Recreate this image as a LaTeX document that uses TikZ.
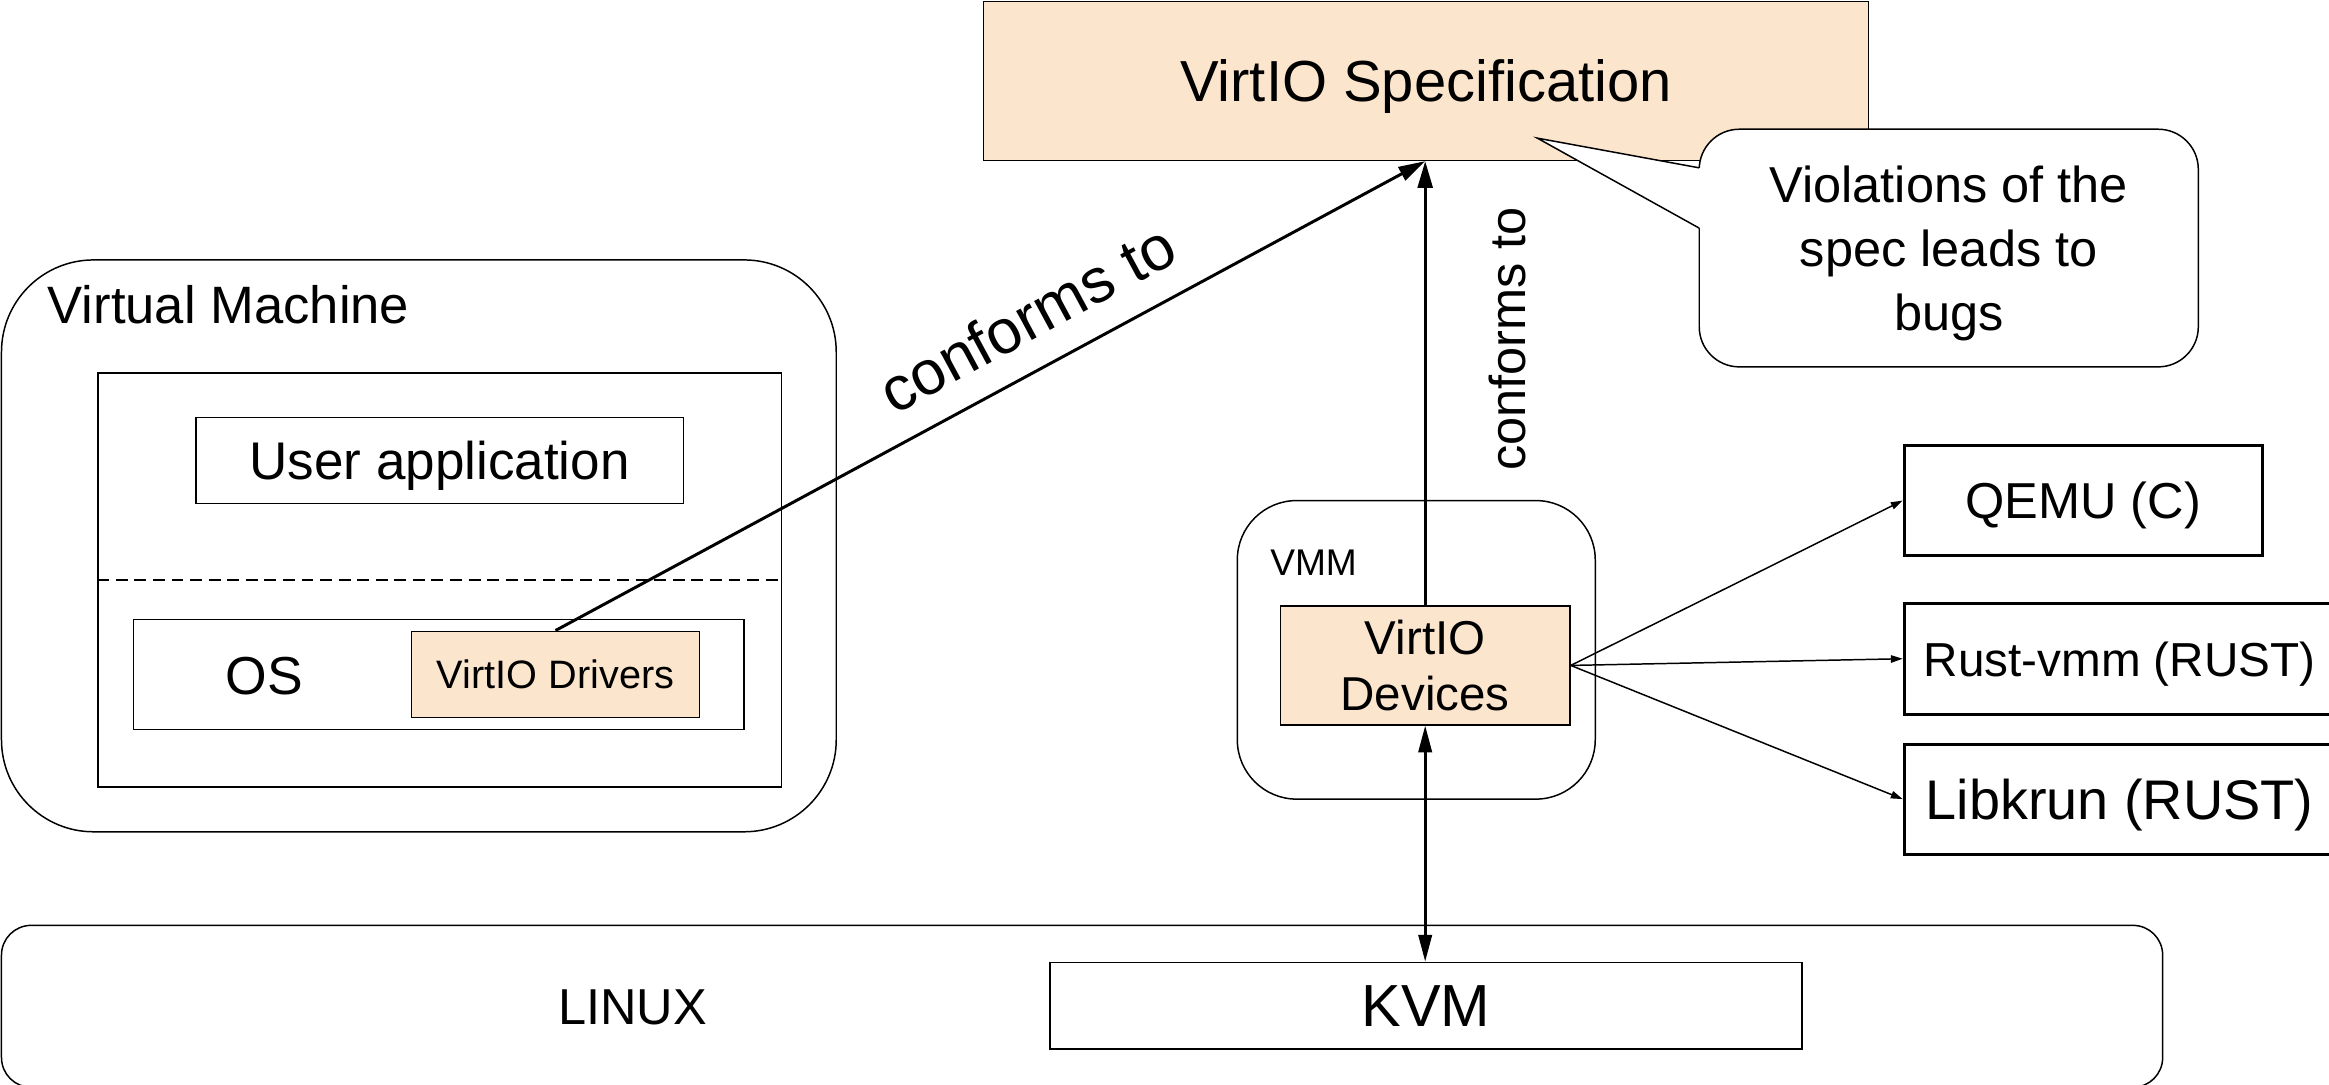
\documentclass[tikz,border=0pt]{standalone}
\usepackage{fontspec}
\setmainfont{Liberation Sans}
\usetikzlibrary{arrows.meta}
\definecolor{peach}{HTML}{FCE5CD}
\begin{document}
\begin{tikzpicture}[x=1pt,y=-1pt,
  box/.style={draw, line width=1pt, inner sep=0pt, rectangle},
  nodepth/.style={text depth=0pt},
  lbl/.style={inner sep=0pt},
  thickarrow/.style={line width=2pt, -{Triangle[length=18pt,width=10pt]}},
  dblarrow/.style={line width=1.8pt, {Triangle[length=18pt,width=9pt]}-{Triangle[length=18pt,width=9pt]}},
  thinarrow/.style={line width=1pt, -{Triangle[length=8pt,width=5pt]}},
  divider/.style={line width=1pt, dash pattern=on 8pt off 4.5pt}]
\useasboundingbox (0,0) rectangle (1568,730);

% containers
\node[box, rounded corners=62pt, minimum width=562pt, minimum height=385pt] (vm) at (282,367.5) {};
\node[lbl, anchor=west, font=\fontsize{35.4}{42}\selectfont] (vmlabel) at (32,205) {Virtual Machine};
\node[box, minimum width=460pt, minimum height=279pt] (guest) at (296,390.5) {};
\node[box, nodepth, minimum width=328pt, minimum height=58pt, font=\fontsize{35.7}{43}\selectfont] (app) at (296,310) {User application};
\draw[divider] (guest.west) -- (guest.east);
\node[box, minimum width=411pt, minimum height=74pt] (os) at (295.5,454) {};
\node[lbl, font=\fontsize{36}{43}\selectfont] (oslabel) at (178,455) {OS};
\node[box, fill=peach, minimum width=194pt, minimum height=58pt, font=\fontsize{26.7}{32}\selectfont] (drivers) at (374,454) {VirtIO Drivers};

\node[box, rounded corners=40pt, minimum width=241pt, minimum height=201pt] (vmm) at (953.5,437.5) {};
\node[lbl, anchor=west, font=\fontsize{25}{30}\selectfont] (vmmlabel) at (855,379) {VMM};
\node[box, fill=peach, minimum width=195pt, minimum height=80pt, align=center, font=\fontsize{32}{38}\selectfont] (dev) at (959.5,448) {VirtIO\\Devices};

\node[box, rounded corners=20pt, minimum width=1455pt, minimum height=109pt] (linux) at (728.5,677.5) {};
\node[lbl, font=\fontsize{34}{41}\selectfont] (linuxlabel) at (426,678) {LINUX};
\node[box, line width=1.2pt, minimum width=506pt, minimum height=58pt, font=\fontsize{40}{48}\selectfont] (kvm) at (960,677) {KVM};

\node[box, nodepth, line width=2pt, minimum width=241pt, minimum height=74pt, font=\fontsize{34}{41}\selectfont] (qemu) at (1402.5,337) {QEMU (C)};
\node[box, nodepth, line width=2pt, minimum width=290pt, minimum height=75pt, font=\fontsize{32.1}{39}\selectfont] (rust) at (1427,443.5) {Rust-vmm (RUST)};
\node[box, nodepth, line width=2pt, minimum width=290pt, minimum height=74pt, font=\fontsize{37.6}{45}\selectfont] (krun) at (1427,538) {Libkrun (RUST)};

% spec and callout
\node[box, nodepth, fill=peach, minimum width=596pt, minimum height=107pt, font=\fontsize{39}{47}\selectfont] (spec) at (960,54.5) {VirtIO Specification};
\node[box, nodepth, fill=white, rounded corners=27pt, minimum width=336pt, minimum height=160pt, align=center, font=\fontsize{34}{43}\selectfont] (note) at (1312,167) {Violations of the\\spec leads to\\bugs};
\coordinate (tip) at (1035,93);
\coordinate (pa) at (1144,113);
\coordinate (pb) at (1144,153.6);
\fill[white] (tip) -- (pa) -- ++(1.5,0) -- ([xshift=1.5pt]pb) -- (pb) -- cycle;
\draw[line width=1pt] (pa) -- (tip) -- (pb);

% connectors
\coordinate (hit) at (dev.north |- spec.south);
\draw[thickarrow] (drivers.north) -- node[lbl, pos=0.57, sloped, above=18pt, font=\fontsize{42}{50}\selectfont] (conf1) {conforms to} (hit);
\draw[thickarrow] (dev.north) -- node[lbl, pos=0.6, sloped, below=42pt, font=\fontsize{34}{41}\selectfont] (conf2) {conforms to} (hit);
\draw[dblarrow] (dev.south) -- (dev.south |- kvm.north);
\draw[thinarrow] (dev.east) -- (qemu.west);
\draw[thinarrow] (dev.east) -- (rust.west);
\draw[thinarrow] (dev.east) -- (krun.west);
\end{tikzpicture}
\end{document}
